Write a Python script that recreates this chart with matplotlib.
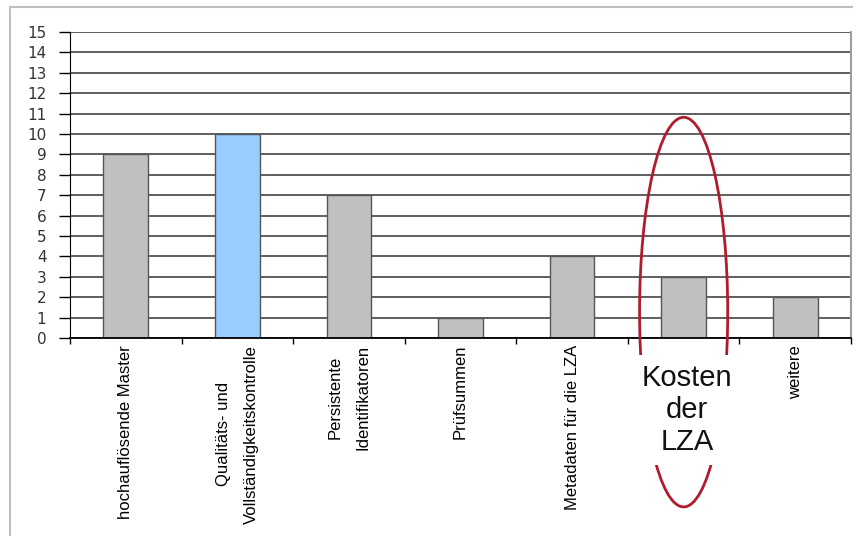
import matplotlib
matplotlib.use('Agg')
import matplotlib.pyplot as plt
from matplotlib.patches import Ellipse
from matplotlib.lines import Line2D

categories = ['hochauflösende Master', 'Qualitäts- und\nVollständigkeitskontrolle',
              'Persistente\nIdentifikatoren', 'Prüfsummen', 'Metadaten für die LZA',
              '', 'weitere']
values = [9, 10, 7, 1, 4, 3, 2]
colors = ['#c0c0c0', '#99ccff', '#c0c0c0', '#c0c0c0', '#c0c0c0', '#c0c0c0', '#c0c0c0']
yticks = list(range(0, 16))
note = 'Kosten\nder\nLZA'
note_idx = 5

fig = plt.figure(figsize=(8.54, 5.36), dpi=100)
ax = fig.add_axes([70/854, 1-338/536, 781/854, 306/536])

x = list(range(len(values)))
ax.bar(x, values, width=0.4, color=colors, edgecolor='#555555', linewidth=1, zorder=2)

ax.set_xlim(-0.5, len(values) - 0.5)
ax.set_ylim(0, 15)
ax.set_yticks(yticks)
ax.set_yticklabels([str(v) for v in yticks], fontsize=11, color='#333333', family='DejaVu Sans')
ax.yaxis.grid(True, color='#333333', linewidth=1.1)
ax.set_axisbelow(True)
ax.tick_params(axis='y', length=8, width=1, pad=9)

# ticks at category boundaries, labels at centers
ax.set_xticks([i - 0.5 for i in range(len(values) + 1)])
ax.set_xticklabels([])
ax.tick_params(axis='x', which='major', length=4, width=1)
ax.set_xticks(x, minor=True)
ax.set_xticklabels(categories, minor=True, rotation=90, fontsize=12,
                   family='Liberation Sans', va='top', ha='center',
                   multialignment='center', linespacing=2.1)
ax.tick_params(axis='x', which='minor', length=0, pad=5)

ax.spines['top'].set_visible(False)
ax.spines['right'].set_color('#a0a0a0')
ax.spines['right'].set_linewidth(1.5)
ax.spines['left'].set_color('black')
ax.spines['bottom'].set_color('black')
ax.spines['bottom'].set_linewidth(1.3)

# red ellipse round the "Kosten der LZA" bar
ell = Ellipse((note_idx, 1.27), width=0.79, height=19.1, fill=False,
              edgecolor='#b01c2c', linewidth=2, clip_on=False, zorder=5)
ax.add_patch(ell)

fig.text(687/854, 1-410/536, note, ha='center', va='center', fontsize=21,
         family='Liberation Sans', color='#111111', linespacing=1.2,
         bbox=dict(boxstyle='square,pad=0.3', facecolor='white', edgecolor='none'))

# outer frame
fig.add_artist(Line2D([10/854, 1], [1-7/536, 1-7/536], color='#c0c0c0', linewidth=1.5))
fig.add_artist(Line2D([10/854, 10/854], [0, 1-7/536], color='#c0c0c0', linewidth=1.5))

fig.savefig('out.png', dpi=100)
